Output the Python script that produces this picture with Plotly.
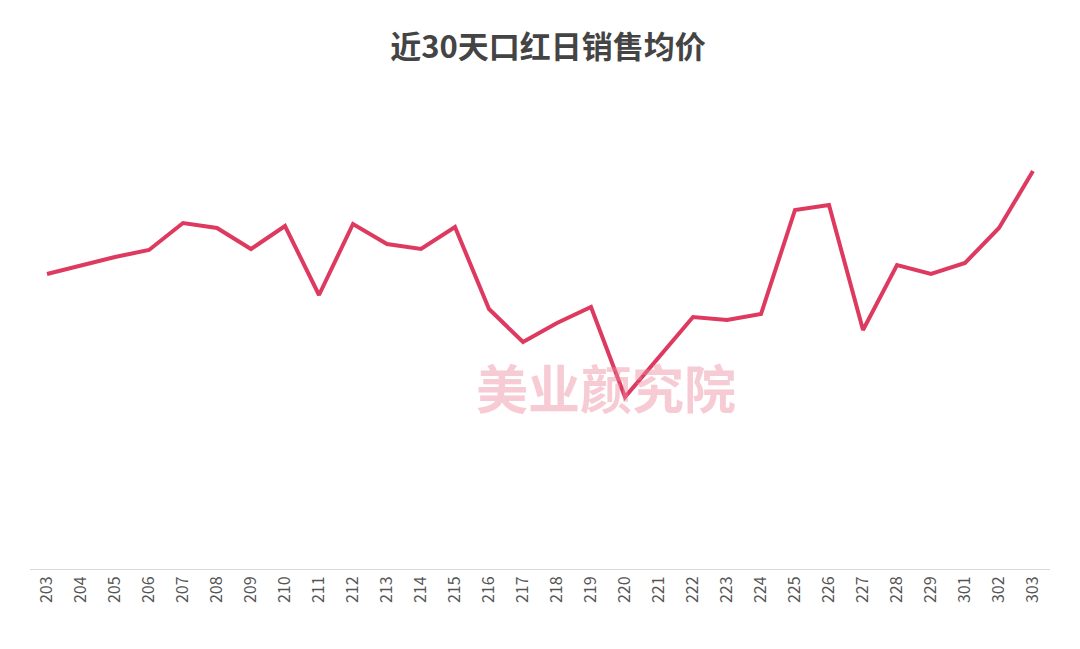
import plotly.graph_objects as go

dates = ["203", "204", "205", "206", "207", "208", "209", "210", "211", "212",
         "213", "214", "215", "216", "217", "218", "219", "220", "221", "222",
         "223", "224", "225", "226", "227", "228", "229", "301", "302", "303"]
# relative average price (no y-axis shown)
price = [295, 304, 312, 319, 346, 341, 320, 343, 274, 345,
         325, 320, 342, 260, 227, 246, 262, 172, 212, 252,
         249, 255, 359, 364, 239, 304, 295, 306, 341, 398]

fig = go.Figure()
fig.add_trace(go.Scatter(x=dates, y=price, mode="lines",
                         line=dict(color="#DE3A60", width=4)))

fig.update_layout(
    width=1080, height=649,
    paper_bgcolor="white", plot_bgcolor="white",
    margin=dict(l=22, r=38, t=93, b=88),
    showlegend=False,
    title=dict(text="<b>近30天口红日销售均价</b>", x=0.5, y=0.94, xanchor="center",
               yanchor="middle",
               font=dict(family="Noto Sans CJK SC", size=31, color="#444444")),
    xaxis=dict(type="category", range=[-0.5, 29.5], tickangle=-90, showgrid=False,
               automargin=False,
               showline=True, linecolor="#D9D9D9", linewidth=1,
               tickfont=dict(family="Noto Sans CJK SC", size=16, color="#555555")),
    yaxis=dict(visible=False, range=[0, 468]),
    font=dict(family="Noto Sans CJK SC"),
)

# watermark
fig.add_annotation(text="<b>美业颜究院</b>", xref="paper", yref="paper",
                   x=0.565, y=0.39, showarrow=False,
                   font=dict(family="Noto Sans CJK SC", size=52, color="rgba(235,140,160,0.45)"))

fig.write_html("out.html")
